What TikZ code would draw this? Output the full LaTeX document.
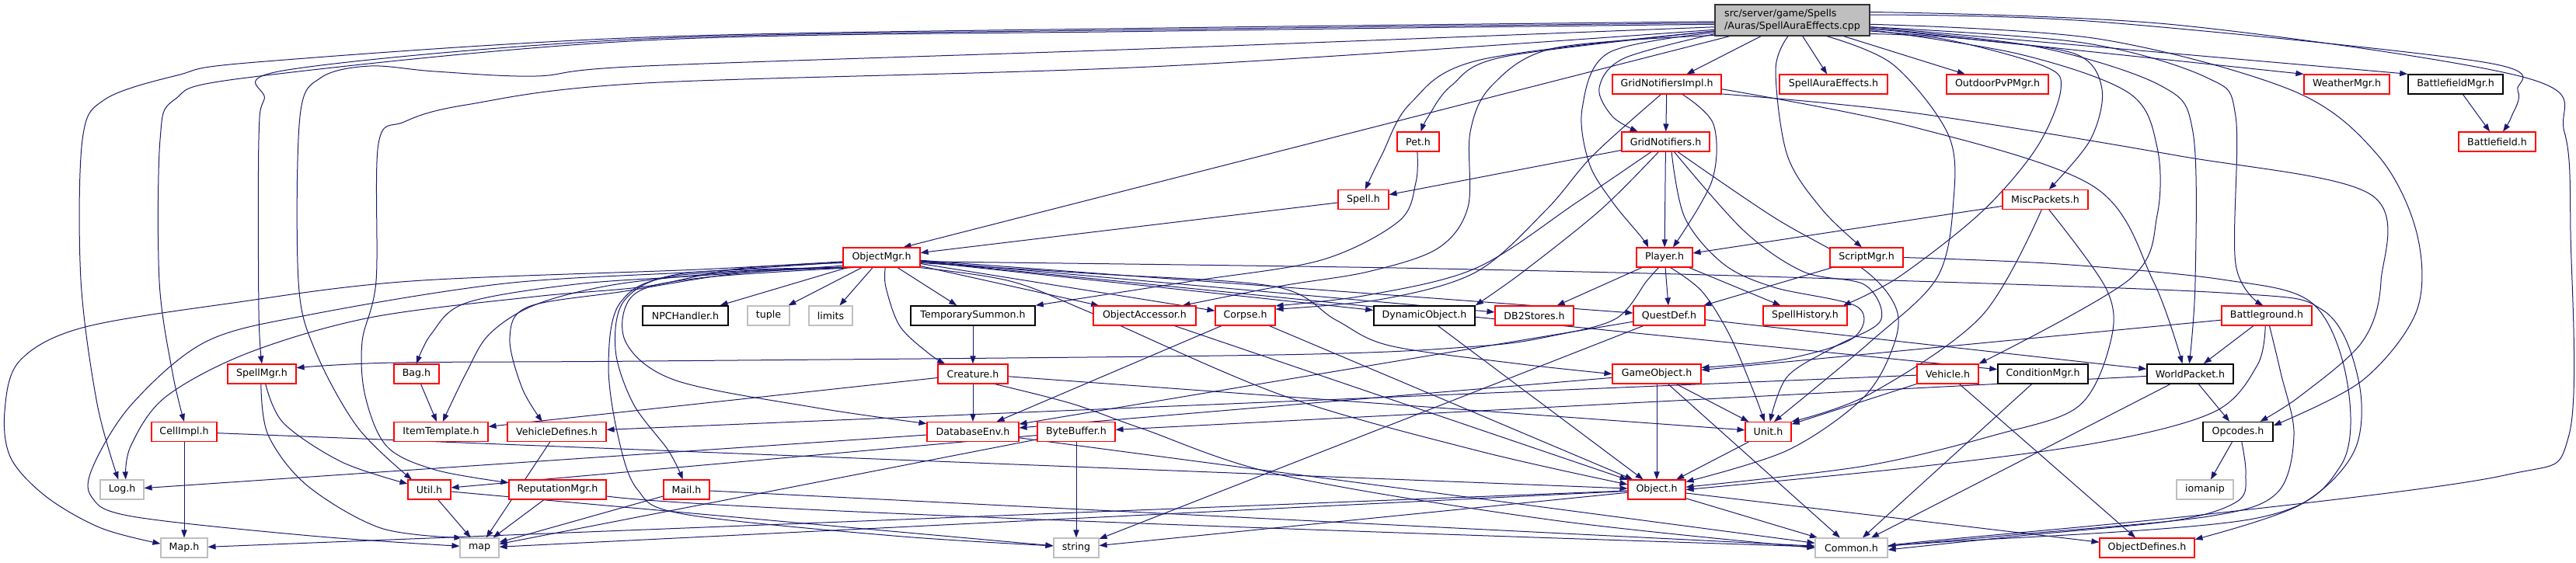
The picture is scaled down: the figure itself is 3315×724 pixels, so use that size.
\documentclass[tikz,border=0pt]{standalone}
\usepackage{fontspec}
\setmainfont{DejaVu Sans}
\usetikzlibrary{arrows.meta,backgrounds}
\definecolor{edgec}{HTML}{191970}
\definecolor{grayb}{HTML}{BFBFBF}
\newcommand\mknode[6]{\node[#2, minimum width=#5*0.5pt] (#1) at (#3,#4) {#6};}
\begin{document}
\begin{tikzpicture}[x=0.5pt,y=-0.5pt,
  box/.style={fill=white, line width=0.55pt, minimum height=12.5pt, inner sep=0pt, font=\fontsize{6.3}{7.6}\selectfont},
  rb/.style={box, draw=red},
  kb/.style={box, draw=black, line width=0.75pt},
  gb/.style={box, draw=grayb},
  conn/.style={draw=edgec, line width=0.5pt, -{Triangle[length=5pt,width=3.6pt]}},
  smo/.style={smooth, tension=0.55}]
\useasboundingbox (0,0) rectangle (3315,724);
\node[box, draw=black!80, fill=grayb, line width=0.6pt, minimum width=99.5pt, minimum height=20pt, align=left] (T) at (2306.5,26) {src/server/game/Spells\\/Auras/SpellAuraEffects.cpp};
\mknode{GNI}{rb}{2145}{108.5}{140}{GridNotifiersImpl.h}
\mknode{SAE}{rb}{2359.5}{108.5}{139}{SpellAuraEffects.h}
\mknode{OPM}{rb}{2570.5}{108.5}{131}{OutdoorPvPMgr.h}
\mknode{WM}{rb}{3020}{108.5}{110}{WeatherMgr.h}
\mknode{BFM}{kb}{3160}{108.5}{122}{BattlefieldMgr.h}
\mknode{Pet}{rb}{1825}{182.5}{54}{Pet.h}
\mknode{GN}{rb}{2143.5}{182.5}{113}{GridNotifiers.h}
\mknode{BF}{rb}{3213.5}{182.5}{99}{Battlefield.h}
\mknode{Spell}{rb}{1754.5}{257}{65}{Spell.h}
\mknode{MP}{rb}{2632}{257}{110}{MiscPackets.h}
\mknode{OM}{rb}{1134.5}{331.5}{99}{ObjectMgr.h}
\mknode{Player}{rb}{2142}{331.5}{72}{Player.h}
\mknode{SM}{rb}{2402}{331.5}{94}{ScriptMgr.h}
\mknode{NPC}{kb}{882}{406.5}{110}{NPCHandler.h}
\mknode{tuple}{gb}{989}{406.5}{54}{tuple}
\mknode{limits}{gb}{1069}{406.5}{56}{limits}
\mknode{TS}{kb}{1252}{406.5}{160}{TemporarySummon.h}
\mknode{OA}{rb}{1473}{406.5}{132}{ObjectAccessor.h}
\mknode{Corpse}{rb}{1602.5}{406.5}{77}{Corpse.h}
\mknode{DO}{kb}{1833}{406.5}{130}{DynamicObject.h}
\mknode{DB2}{rb}{1974.5}{406.5}{101}{DB2Stores.h}
\mknode{QD}{rb}{2148}{406.5}{92}{QuestDef.h}
\mknode{SH}{rb}{2323}{406.5}{108}{SpellHistory.h}
\mknode{BG}{rb}{2917}{406.5}{116}{Battleground.h}
\mknode{SpellMgr}{rb}{337}{481.5}{88}{SpellMgr.h}
\mknode{Bag}{rb}{536}{481.5}{58}{Bag.h}
\mknode{Creature}{rb}{1252}{481.5}{90}{Creature.h}
\mknode{GO}{rb}{2132}{481.5}{114}{GameObject.h}
\mknode{Vehicle}{rb}{2506.5}{481.5}{79}{Vehicle.h}
\mknode{CM}{kb}{2629}{481.5}{116}{ConditionMgr.h}
\mknode{WP}{kb}{2818.5}{481.5}{111}{WorldPacket.h}
\mknode{CellImpl}{rb}{237}{556}{84}{CellImpl.h}
\mknode{IT}{rb}{567.5}{556}{121}{ItemTemplate.h}
\mknode{VD}{rb}{716.5}{556}{127}{VehicleDefines.h}
\mknode{DBE}{rb}{1252}{556}{118}{DatabaseEnv.h}
\mknode{BB}{rb}{1385}{556}{100}{ByteBuffer.h}
\mknode{Unit}{rb}{2275.5}{556}{59}{Unit.h}
\mknode{Opc}{kb}{2880}{556}{90}{Opcodes.h}
\mknode{Log}{gb}{157}{630.5}{56}{Log.h}
\mknode{Util}{rb}{552.5}{630.5}{55}{Util.h}
\mknode{RM}{rb}{717.5}{630.5}{125}{ReputationMgr.h}
\mknode{Mail}{rb}{883.5}{630.5}{59}{Mail.h}
\mknode{Object}{rb}{2132}{630.5}{74}{Object.h}
\mknode{iomanip}{gb}{2837.5}{630.5}{73}{iomanip}
\mknode{MapH}{gb}{237}{705.5}{60}{Map.h}
\mknode{map}{gb}{617}{705.5}{50}{map}
\mknode{string}{gb}{1385}{705.5}{58}{string}
\mknode{Common}{gb}{2382.5}{705.5}{93}{Common.h}
\mknode{OD}{rb}{2763}{705.5}{122}{ObjectDefines.h}

\begin{pgfonlayer}{background}
% from the .cpp
\draw[conn] plot[smo] coordinates {(T.181) (1500,36) (830,48) (330,80) (228,97) (135,128) (106,180) (104,360) (125,520) (Log.110)};
\draw[conn] plot[smo] coordinates {(T.183) (1500,40) (830,52) (318,100) (225,128) (206,180) (205,362) (222,480) (CellImpl.north)};
\draw[conn] plot[smo] coordinates {(T.182) (1500,38) (830,50) (370,90) (340,128) (333,180) (333,400) (SpellMgr.north)};
\draw[conn] plot[smo] coordinates {(T.185) (1500,62) (830,85) (690,98) (560,92) (476,85) (413,100) (386,150) (384,362) (405,450) (460,550) (Util.150)};
\draw[conn] plot[smo] coordinates {(T.187) (1500,85) (830,107) (600,135) (520,157) (487,185) (484,362) (466,440) (470,510) (498,575) (560,605) (RM.172)};
\draw[conn] (T) -- (OM.25);
\draw[conn] plot[smo] coordinates {(T.188) (1905,77) (1815,133) (1778,200) (Spell.80)};
\draw[conn] plot[smo] coordinates {(T.188) (1936,73) (1868,110) (1838,150) (Pet.75)};
\draw[conn] plot[smo] coordinates {(T.191) (2000,62) (1920,110) (1892,170) (1889,267) (1850,320) (1760,350) (1650,368) (OA.15)};
\draw[conn] plot[smo] coordinates {(T.190) (2090,75) (2058,113) (2075,150) (GN.160)};
\draw[conn] plot[smo] coordinates {(T.189) (2070,68) (2036,140) (2045,210) (2075,260) (2112,305) (Player.148)};
\draw[conn] (T) -- (GNI);
\draw[conn] (T) -- (SAE);
\draw[conn] plot[smo] coordinates {(T.255) (2285,90) (2300,200) (2345,270) (SM.115)};
\draw[conn] plot[smo] coordinates {(T.350) (2500,50) (2630,85) (2652,115) (2621,190) (2550,273) (2443,357) (SH.15)};
\draw[conn] plot[smo] coordinates {(T.335) (2436,83) (2507,173) (2514,257) (2493,357) (2407,440) (Unit.60)};
\draw[conn] plot[smo] coordinates {(T.352) (2550,52) (2672,70) (2705,115) (2690,180) (MP.70)};
\draw[conn] plot[smo] coordinates {(T.353) (2600,70) (2740,120) (2776,190) (2776,277) (2740,360) (Vehicle.north east)};
\draw[conn] plot[smo] coordinates {(T.354) (2620,60) (2780,110) (2822,170) (2825,362) (WP.95)};
\draw[conn] plot[smo] coordinates {(T.355) (2680,55) (2840,100) (2877,150) (2877,340) (BG.110)};
\draw[conn] plot[smo] coordinates {(T.357) (2700,50) (2951,117) (3060,200) (3110,300) (3110,400) (3040,490) (Opc.10)};
\draw[conn] (T) -- (WM.north west);
\draw[conn] (T) -- (BFM.north west);
\draw[conn] (T) -- (OPM);
\draw[conn] plot[smo] coordinates {(T.4) (2700,28) (3196,80) (3240,117) (3232,150) (BF.60)};
\draw[conn] plot[smo] coordinates {(T.6) (2800,32) (3250,100) (3300,170) (3308,300) (3306,560) (3223,612) (2842,662) (2460,699) (Common.east)};
% GridNotifiersImpl
\draw[conn] (GNI) -- (GN);
\draw[conn] plot[smo] coordinates {(GNI.327) (2205,160) (2203,233) (Player.50)};
\draw[conn] plot[smo] coordinates {(GNI.240) (2050,200) (1990,270) (1900,350) (1780,385) (Corpse.12)};
\draw[conn] plot[smo] coordinates {(GNI.355) (2460,163) (2694,240) (2771,362) (WP.127)};
\draw[conn] plot[smo] coordinates {(GNI.350) (2460,145) (2800,200) (3050,250) (3064,362) (3040,440) (2960,510) (Opc.25)};
\draw[conn] (BFM) -- (BF);
% GridNotifiers
\draw[conn] (GN) -- (Spell);
\draw[conn] (GN) -- (Player);
\draw[conn] plot[smo] coordinates {(GN.215) (2030,260) (1900,345) (1760,380) (Corpse.18)};
\draw[conn] plot[smo] coordinates {(GN.235) (2060,270) (1960,350) (DO.north east)};
\draw[conn] plot[smo] coordinates {(GN.300) (2168,280) (2218,340) (2283,370) (2390,395) (2385,435) (2300,462) (GO.8)};
\draw[conn] plot[smo] coordinates {(GN.310) (2244,297) (2321,350) (2400,367) (2420,413) (2360,447) (2300,485) (Unit.80)};
\draw[conn] plot[smo] coordinates {(GN.320) (2283,280) (2397,346) (2440,397) (2436,447) (2397,513) (2300,580) (Object.15)};
% MiscPackets
\draw[conn] (MP) -- (Player);
\draw[conn] plot[smo] coordinates {(MP.250) (2550,407) (2407,507) (Unit.north east)};
\draw[conn] plot[smo] coordinates {(MP.290) (2711,373) (2716,440) (2675,523) (2568,560) (2400,600) (Object.5)};
% ObjectMgr
\draw[conn] plot[smo] coordinates {(OM.188) (950,346) (830,369) (688,382) (476,409) (318,455) (212,512) (168,575) (Log.70)};
\draw[conn] plot[smo] coordinates {(OM.186) (900,347) (529,362) (300,390) (106,422) (25,465) (6,530) (14,590) (60,640) (130,680) (MapH.170)};
\draw[conn] plot[smo] coordinates {(OM.187) (900,350) (650,365) (400,405) (265,440) (170,520) (120,600) (118,640) (170,665) (400,690) (map.175)};
\draw[conn] plot[smo] coordinates {(OM.192) (900,355) (741,366) (600,390) (555,430) (Bag.north)};
\draw[conn] plot[smo] coordinates {(OM.194) (950,350) (794,366) (690,392) (630,430) (600,480) (IT.80)};
\draw[conn] plot[smo] coordinates {(OM.196) (950,352) (804,375) (680,395) (656,435) (672,500) (VD.145)};
\draw[conn] (OM) -- (NPC);
\draw[conn] (OM) -- (tuple);
\draw[conn] (OM) -- (limits);
\draw[conn] (OM) -- (TS);
\draw[conn] plot[smo] coordinates {(OM.290) (1140,370) (1158,420) (1195,455) (Creature.160)};
\draw[conn] (OM) -- (OA);
\draw[conn] (OM) -- (Corpse);
\draw[conn] (OM) -- (DO);
\draw[conn] (OM) -- (DB2);
\draw[conn] (OM) -- (QD);
\draw[conn] plot[smo] coordinates {(OM.352) (1400,352) (1640,369) (1719,412) (1788,445) (1950,468) (GO.west)};
\draw[conn] (OM) -- (CM);
\draw[conn] plot[smo] coordinates {(OM.354) (1600,342) (1900,347) (2300,357) (2860,377) (2990,400) (3035,489) (3030,580) (2960,650) (OD.10)};
\draw[conn] plot[smo] coordinates {(OM.200) (900,358) (815,380) (805,440) (870,490) (1050,525) (DBE.170)};
\draw[conn] plot[smo] coordinates {(OM.195) (880,352) (805,385) (792,450) (815,520) (860,580) (Mail.110)};
\draw[conn] plot[smo] coordinates {(OM.197) (870,355) (798,390) (783,470) (795,560) (820,630) (880,662) (1150,690) (string.175)};
\draw[conn] plot[smo] coordinates {(OM.345) (1300,362) (1402,402) (1650,509) (1900,580) (Object.170)};
% others
\draw[conn] plot[smo] coordinates {(Pet.265) (1822,235) (1800,285) (1700,335) (1534,362) (TS.north east)};
\draw[conn] (Spell) -- (OM);
\draw[conn] (Player) -- (DB2);
\draw[conn] (Player) -- (QD);
\draw[conn] (Player) -- (SH);
\draw[conn] plot[smo] coordinates {(Player.300) (2190,375) (2225,430) (2255,500) (Unit.110)};
\draw[conn] plot[smo] coordinates {(Player.240) (2119,362) (2080,410) (2000,432) (1900,446) (1640,457) (830,465) (508,467) (SpellMgr.10)};
\draw[conn] (SM) -- (QD);
\draw[conn] plot[smo] coordinates {(SM.east) (2650,340) (2860,360) (2975,390) (3020,489) (3012,600) (2900,668) (2500,698) (Common.5)};
\draw[conn] (TS) -- (Creature);
\draw[conn] (OA) -- (Object);
\draw[conn] (Corpse) -- (DBE);
\draw[conn] (Corpse) -- (Object);
\draw[conn] (DO) -- (Object);
\draw[conn] (QD) -- (DBE);
\draw[conn] (QD) -- (WP);
\draw[conn] (QD) -- (string);
\draw[conn] (BG) -- (WP);
\draw[conn] (BG) -- (GO.5);
\draw[conn] plot[smo] coordinates {(BG.262) (2905,470) (2850,530) (2700,570) (2460,602) (Object.0)};
\draw[conn] plot[smo] coordinates {(BG.285) (2935,480) (2952,560) (2930,635) (2842,665) (2600,688) (Common.3)};
\draw[conn] (Creature) -- (Unit);
\draw[conn] (Creature) -- (IT);
\draw[conn] (Creature) -- (DBE);
\draw[conn] plot[smo] coordinates {(Creature.335) (1380,520) (1470,552) (1650,612) (2000,670) (Common.west)};
\draw[conn] (GO) -- (Object);
\draw[conn] (GO) -- (Unit);
\draw[conn] (GO) -- (Common);
\draw[conn] (GO) -- (DBE);
\draw[conn] (Vehicle) -- (VD);
\draw[conn] (Vehicle) -- (Unit);
\draw[conn] (Vehicle) -- (OD);
\draw[conn] (CM) -- (Common);
\draw[conn] (WP) -- (BB);
\draw[conn] (WP) -- (Opc);
\draw[conn] (WP) -- (Common);
\draw[conn] (CellImpl) -- (MapH);
\draw[conn] (CellImpl) -- (Object);
\draw[conn] (VD) -- (map);
\draw[conn] (DBE) -- (Log);
\draw[conn] (DBE) -- (Common);
\draw[conn] (BB) -- (Util);
\draw[conn] (BB) -- (map);
\draw[conn] (BB) -- (string);
\draw[conn] (Unit) -- (Object);
\draw[conn] (Opc) -- (iomanip);
\draw[conn] plot[smo] coordinates {(Opc.290) (2890,610) (2880,645) (2800,670) (2600,690) (Common.357)};
\draw[conn] (Util) -- (map);
\draw[conn] (Util) -- (string);
\draw[conn] (RM) -- (map);
\draw[conn] (RM) .. controls (900,655) and (1600,680) .. (Common);
\draw[conn] (Mail) -- (map);
\draw[conn] (Mail) -- (Common);
\draw[conn] (Object) -- (MapH);
\draw[conn] (Object) -- (map);
\draw[conn] (Object) -- (string);
\draw[conn] (Object) -- (Common);
\draw[conn] (Object) -- (OD);
\draw[conn] plot[smo] coordinates {(SpellMgr.290) (365,545) (440,595) (Util.165)};
\draw[conn] plot[smo] coordinates {(SpellMgr.265) (345,560) (395,625) (490,680) (map.150)};
\draw[conn] (Bag) -- (IT);
\end{pgfonlayer}
\end{tikzpicture}
\end{document}
